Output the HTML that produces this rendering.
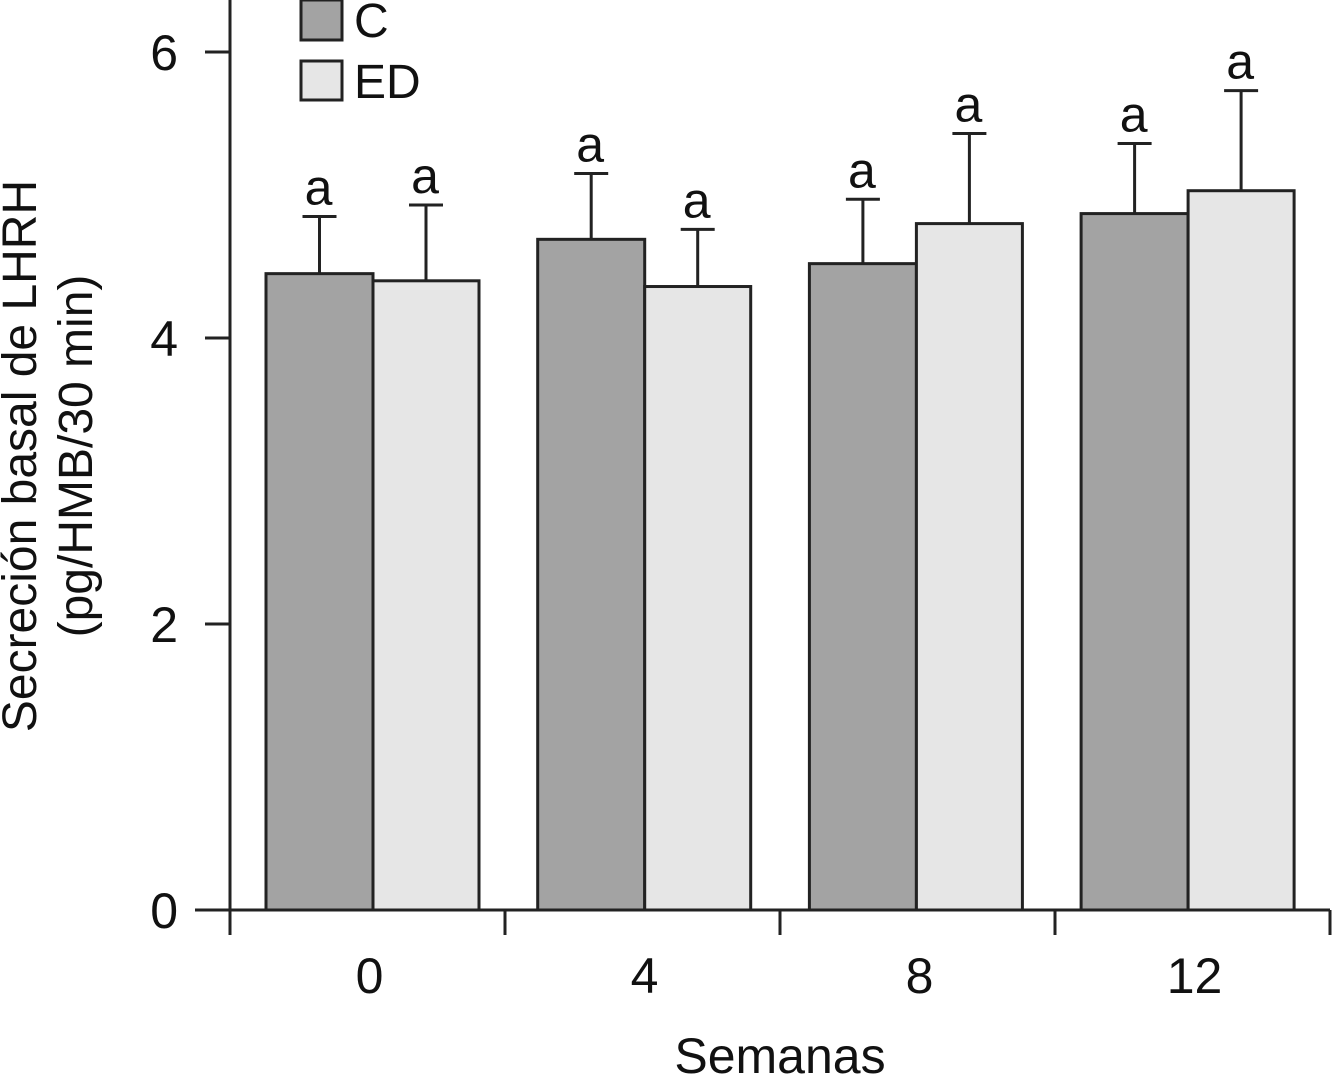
<!DOCTYPE html>
<html><head><meta charset="utf-8"><style>
html,body{margin:0;padding:0;background:#fff;}
svg{display:block;font-family:"Liberation Sans",Arial,sans-serif;}
</style></head><body>
<svg id="chart" width="1333" height="1077" viewBox="0 0 1333 1077">
<g id="plot"></g>
</svg>
<script>
const categories = ["0","4","8","12"];
const cValues = [4.45, 4.69, 4.52, 4.87];
const cErr = [0.40, 0.46, 0.45, 0.49];
const edValues = [4.40, 4.36, 4.80, 5.03];
const edErr = [0.53, 0.40, 0.63, 0.70];
const yTicks = [0, 2, 4, 6];
const sigLabels = ["a","a","a","a"];

const NS = "http://www.w3.org/2000/svg";
const g = document.getElementById('plot');
const y0 = 910, pxPerUnit = 143, axisX = 230, groupW = 275;
function yScale(v){ return y0 - v * pxPerUnit; }
function xGroup(i){ return axisX + groupW * i; }
function xBar(i){ return 266 + 271.7 * i; }
function mk(tag, attrs, text){
  const e = document.createElementNS(NS, tag);
  for (const k in attrs) e.setAttribute(k, attrs[k]);
  if (text !== undefined) e.textContent = text;
  g.appendChild(e);
  return e;
}
let e;
e = mk('line',{x1:axisX,y1:0,x2:axisX,y2:y0,stroke:'#222','stroke-width':3});


e = mk('line',{x1:195,y1:y0,x2:1330,y2:y0,stroke:'#222','stroke-width':3});


yTicks.forEach(t=>{
  const y = yScale(t);
  e = mk('line',{x1:205,y1:y,x2:axisX,y2:y,stroke:'#222','stroke-width':3});
  
  
  e = mk('text',{x:178,y:y+18,'font-size':50,'text-anchor':'end',fill:'#111'},String(t));
  
  
});
for (let i=0;i<=categories.length;i++){
  const x = xGroup(i);
  e = mk('line',{x1:x,y1:y0,x2:x,y2:935,stroke:'#222','stroke-width':3});
  
  
}
function drawBar(x, w, v, err, fill, lab){
  const top = yScale(v), et = yScale(v+err), cx = x + w/2;
  e = mk('line',{x1:cx,y1:top,x2:cx,y2:et,stroke:'#222','stroke-width':3});
  
  
  e = mk('line',{x1:cx-17,y1:et,x2:cx+17,y2:et,stroke:'#222','stroke-width':3});
  
  
  e = mk('rect',{x:x,y:top,width:w,height:y0-top,fill:fill,stroke:'#222','stroke-width':3});
  
  
  e = mk('text',{x:cx-1,y:et-12,'font-size':50,'text-anchor':'middle',fill:'#111'},lab);
  
  
}
categories.forEach((c,i)=>{
  const bx = xBar(i);
  drawBar(bx, 107, cValues[i], cErr[i], '#a3a3a3', sigLabels[i]);
  drawBar(bx+107, 106, edValues[i], edErr[i], '#e6e6e6', sigLabels[i]);
  e = mk('text',{x:xGroup(i)+groupW/2+2,y:993,'font-size':50,'text-anchor':'middle',fill:'#111'},c);
  
  
});
e = mk('text',{x:780,y:1073,'font-size':50,'text-anchor':'middle',fill:'#111'},'Semanas');


e = mk('text',{x:0,y:0,'font-size':48,'text-anchor':'middle',fill:'#111',transform:'translate(36,456) rotate(-90)'},'Secreción basal de LHRH');


e = mk('text',{x:0,y:0,'font-size':48,'text-anchor':'middle',fill:'#111',transform:'translate(92,456) rotate(-90)'},'(pg/HMB/30 min)');


e = mk('rect',{x:301,y:0,width:41,height:40,fill:'#a3a3a3',stroke:'#222','stroke-width':3});


e = mk('text',{x:354,y:37,'font-size':48,fill:'#111'},'C');


e = mk('rect',{x:301,y:61,width:41,height:39,fill:'#e6e6e6',stroke:'#222','stroke-width':3});


e = mk('text',{x:354,y:98,'font-size':48,fill:'#111'},'ED');


</script>
</body></html>
